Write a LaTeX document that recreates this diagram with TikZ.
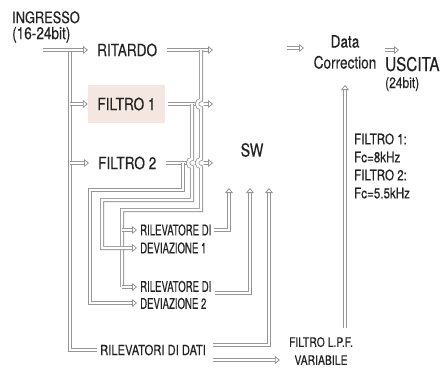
\documentclass[tikz,border=0pt]{standalone}
\usepackage{fontspec}
\setmainfont{TeX Gyre Heros}[FakeStretch=0.8,FakeBold=0.25]
\newfontfamily\narrowfont{TeX Gyre Heros}[FakeStretch=0.64,FakeBold=0.25]
\usetikzlibrary{arrows.meta}
\definecolor{linegray}{RGB}{150,150,150}
\definecolor{txt}{RGB}{35,35,35}
\definecolor{pinkbox}{RGB}{244,230,224}
\begin{document}
\begin{tikzpicture}[x=1pt,y=-1pt,
  conn/.style={draw=linegray,line width=0.8pt,double=white,double distance=2.4pt},
  tip/.style={-{Triangle[open,length=5pt,width=8pt]}},
  t/.style={inner sep=0pt,text=txt,anchor=west},
  tc/.style={inner sep=0pt,text=txt},
  big/.style={font=\fontsize{17}{20}\selectfont},
]
\useasboundingbox[fill=white] (0,0) rectangle (444,370);

% ---------- nodes ----------
\node[t,align=left,font=\fontsize{16}{16}\selectfont] (ing) at (12,27) {INGRESSO\\{\fontsize{17}{16}\selectfont(16-24bit)}};
\node[t,big] (rit) at (97,50) {RITARDO};
\node[tc,big,fill=pinkbox,minimum width=77pt,minimum height=38pt] (f1) at (126.5,104) {FILTRO 1};
\node[t,big] (f2) at (98,163) {FILTRO 2};
\node[tc,font=\fontsize{18}{20}\selectfont] (sw) at (252,150) {SW};
\node[tc,align=center,font=\fontsize{17}{21}\selectfont] (dc) at (345,52) {Data\\Correction};
\node[t,align=left,font=\fontsize{19}{17}\selectfont] (usc) at (385,74) {USCITA\\{\fontsize{15}{17}\selectfont(24bit)}};
\node[t,align=left,font=\fontsize{14.5}{18}\selectfont] (note) at (354,166) {FILTRO 1:\\Fc=8kHz\\FILTRO 2:\\Fc=5.5kHz};
\node[t,align=left,font=\narrowfont\fontsize{15}{18}\selectfont] (dev1) at (140,239) {RILEVATORE DI\\DEVIAZIONE 1};
\node[t,align=left,font=\narrowfont\fontsize{15}{17}\selectfont] (dev2) at (140,295) {RILEVATORE DI\\DEVIAZIONE 2};
\node[t,font=\fontsize{14}{16}\selectfont] (rdd) at (100,350) {RILEVATORI DI DATI};
\node[tc,align=center,font=\fontsize{13}{18}\selectfont] (lpf) at (321,351) {FILTRO L.P.F.\\VARIABILE};

% ---------- coordinates ----------
\coordinate (inS) at (43,50);
\coordinate (busT) at (70,50);
\coordinate (tipR) at (213,50);
\coordinate (tipF1) at (213,104);
\coordinate (tipF2) at (213,163);
\coordinate (d1a) at (137,230);
\coordinate (d1b) at (137,248);
\coordinate (d2a) at (137,287);
\coordinate (d2b) at (137,303);
\coordinate (sw1) at (229,188);
\coordinate (sw2) at (250,188);
\coordinate (sw3) at (269,188);
\coordinate (dcIn) at (287,48);
\coordinate (dcInTip) at (304,48);
\coordinate (dcBot) at (345,85);
\coordinate (lpfTop) at (345,328);
\coordinate (uscS) at (385,50);
\coordinate (uscTip) at (399,50);

% ---------- main bus ----------
\draw[conn] (busT) |- ([xshift=-3pt]rdd.west);
\draw[conn,tip] (inS) -- ([xshift=-9pt]rit.west);
\draw[conn,tip] (busT |- f1.west) -- (f1.west);
\draw[conn,tip] (busT |- f2.west) -- ([xshift=-9pt]f2.west);

% ---------- row outputs ----------
\draw[conn,tip] ([xshift=10pt]rit.east) -- (tipR);
\draw[conn,tip] ([xshift=3pt]f1.east) -- (tipF1);
\draw[conn,tip] ([xshift=10pt]f2.east) -- (tipF2);

% gaps under the hops
\fill[white] (201,104) circle (3.2);
\fill[white] (192,163) circle (3.2);
\fill[white] (201,163) circle (3.2);

% ---------- feeds to the deviation detectors (with hops) ----------
\draw[conn] (201,50) -- (201,100) arc[start angle=270,end angle=90,radius=4]
   -- (201,159) arc[start angle=270,end angle=90,radius=4]
   -- (201,210) -- (122,210) -- (122,287);
\draw[conn,tip] (122,230) -- (d1a);
\draw[conn,tip] (122,287) -- (d2a);
\draw[conn,tip] (192,104) -- (192,159) arc[start angle=270,end angle=90,radius=4]
   -- (192,200) -- (102,200) -- (102,248) -- (d1b);
\draw[conn,tip] (183,163) -- (183,190) -- (90,190) -- (90,303) -- (d2b);

% ---------- into SW ----------
\draw[conn,tip] ([xshift=2pt]dev1.east |- d1a) -| (sw1);
\draw[conn,tip] ([xshift=3pt,yshift=2pt]dev2.east) -| (sw2);
\draw[conn,tip] ([xshift=7pt,yshift=5pt]rdd.east) -| (sw3);
\draw[conn,tip] ([xshift=7pt,yshift=-10pt]rdd.east) -- ([xshift=-9pt,yshift=-9pt]lpf.west);

% ---------- right side ----------
\draw[conn,tip] (dcIn) -- (dcInTip);
\draw[conn,tip] (lpfTop) -- (dcBot);
\draw[conn,tip] (uscS) -- (uscTip);
\end{tikzpicture}
\end{document}
